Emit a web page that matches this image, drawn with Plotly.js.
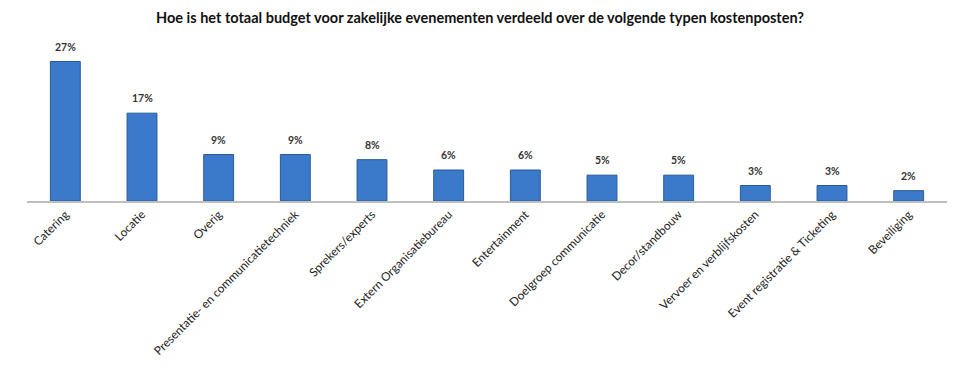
<!DOCTYPE html>
<html><head><meta charset="utf-8">
<script src="https://cdn.plot.ly/plotly-3.0.1.min.js"></script>
<style>html,body{margin:0;padding:0;background:#fff}#chart{width:960px;height:391px}</style>
</head><body><div id="chart"></div>
<script>
const categories = ["Catering","Locatie","Overig","Presentatie- en communicatietechniek","Sprekers/experts","Extern Organisatiebureau","Entertainment","Doelgroep communicatie","Decor/standbouw","Vervoer en verblijfskosten","Event registratie & Ticketing","Beveiliging"];
const values = [27,17,9,9,8,6,6,5,5,3,3,2];
const labels = values.map(v => v + "%");

const FONT = "Lato, 'Open Sans', sans-serif";
const annotations = categories.map((c, i) => ({
  x: c, y: values[i], text: "<b>" + labels[i] + "</b>",
  showarrow: false, yanchor: "bottom", yshift: 7,
  font: {family: FONT, size: 10.5, color: "#333"}
}));

Plotly.newPlot("chart", [{
  type: "bar",
  x: categories,
  y: values,
  width: 0.39,
  marker: {color: "#3b7acb", line: {color: "#2a5a98", width: 1}},
  hoverinfo: "none"
}], {
  width: 960, height: 391,
  margin: {l: 27, r: 13, t: 46, b: 190},
  paper_bgcolor: "#fff", plot_bgcolor: "#fff",
  showlegend: false,
  annotations: annotations,
  title: {text: "<b>Hoe is het totaal budget voor zakelijke evenementen verdeeld over de volgende typen kostenposten?</b>",
    x: 0.5, xanchor: "center", y: 0.955, yanchor: "middle",
    font: {family: FONT, size: 14.5, color: "#111"}},
  xaxis: {tickangle: -45, showline: true, linecolor: "#bfbfbf", linewidth: 2, ticks: "",
    tickfont: {family: FONT, size: 11.8, color: "#222"}, fixedrange: true},
  yaxis: {range: [0, 30], visible: false, showgrid: false, zeroline: false, fixedrange: true},
  font: {family: FONT}
}, {displayModeBar: false, staticPlot: true});
</script></body></html>
